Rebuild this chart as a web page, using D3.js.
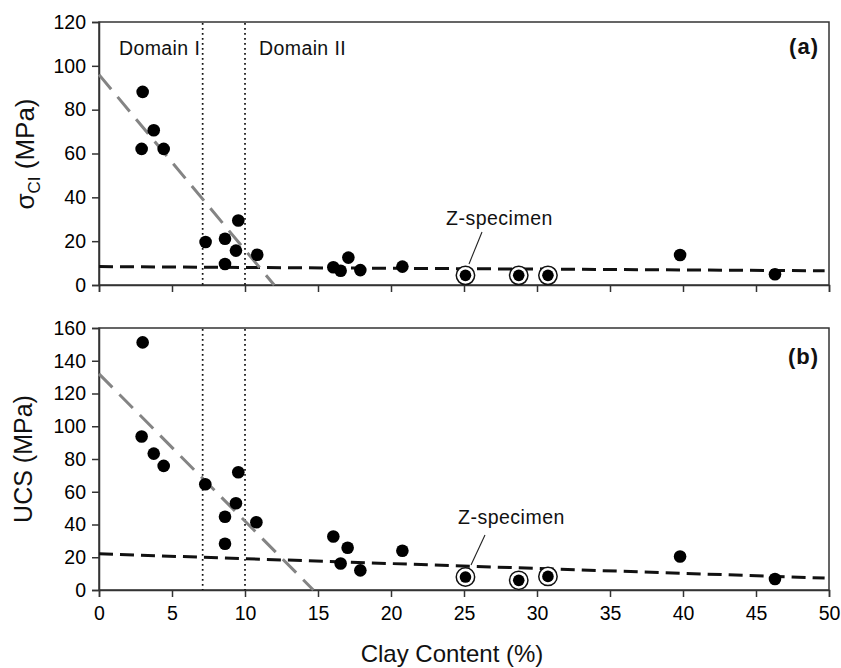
<!DOCTYPE html>
<html>
<head>
<meta charset="utf-8">
<script src="https://cdn.jsdelivr.net/npm/d3@7"></script>
<style>
  html, body { margin: 0; padding: 0; background: #fff; }
  svg { display: block; font-family: "Liberation Sans", Arial, Helvetica, sans-serif; }
</style>
</head>
<body>
<svg id="chart" width="841" height="668"></svg>
<script>
// ---- Data ----
const clayContent = [2.99, 2.92, 3.75, 4.43, 7.3, 8.63, 8.63, 9.38, 9.54, 10.84, 16.05, 16.55, 17.08, 17.9, 20.78, 25.1, 28.75, 30.75, 39.8, 46.3];
const clayContentUCS = [2.99, 2.92, 3.75, 4.43, 7.28, 8.63, 8.63, 9.38, 9.54, 10.78, 16.05, 16.55, 17.03, 17.9, 20.78, 25.1, 28.75, 30.75, 39.8, 46.3];
const sigmaCI = [88.1, 62.1, 70.6, 62.1, 19.6, 21.1, 9.6, 15.7, 29.4, 13.8, 8.1, 6.5, 12.5, 6.8, 8.4, 4.4, 4.4, 4.4, 13.7, 4.9];
const ucs = [151.2, 93.7, 83.3, 75.8, 64.6, 44.7, 28.2, 53.0, 71.9, 41.4, 32.7, 16.2, 25.8, 12.0, 24.0, 7.9, 5.9, 8.3, 20.5, 6.7];
const zSpecimen = [false, false, false, false, false, false, false, false, false, false, false, false, false, false, false, true, true, true, false, false];

const sigmaFitAll = [[0, 8.4], [49.7, 6.5]];
const sigmaFitDomainI = [[0, 96], [12.0, 0]];
const ucsFitAll = [[0, 22.1], [49.7, 7.3]];
const ucsFitDomainI = [[0, 132], [14.68, 0]];

const domainBounds = [7.1, 10];
const xTicks = [0, 5, 10, 15, 20, 25, 30, 35, 40, 45, 50];
const sigmaTicks = [0, 20, 40, 60, 80, 100, 120];
const ucsTicks = [0, 20, 40, 60, 80, 100, 120, 140, 160];
const domainLabels = [{ text: "Domain I", x: 1.37 }, { text: "Domain II", x: 10.96 }];

// ---- Layout ----
const svg = d3.select("#chart");
svg.append("rect").attr("width", 841).attr("height", 668).attr("fill", "#fff");

const x = d3.scaleLinear().domain([0, 50]).range([99, 829]);
const ySig = d3.scaleLinear().domain([0, 120]).range([285, 22]);
const yUcs = d3.scaleLinear().domain([0, 160]).range([590, 328]);

const axisColor = "#333";
const line = (ys) => d3.line().x(d => x(d[0])).y(d => ys(d[1]));

function panel(ys, yTicks, xs, vals, fitAll, fitDI, label, labelY, showXLabels, zText) {
  const g = svg.append("g");
  const [y0, y1] = ys.range();

  // frame
  g.append("rect")
    .attr("x", x(0)).attr("y", y1)
    .attr("width", x(50) - x(0)).attr("height", y0 - y1)
    .attr("fill", "none").attr("stroke", axisColor).attr("stroke-width", 1.5);

  // axes
  const xa = d3.axisBottom(x).tickValues(xTicks).tickSize(7).tickPadding(8)
    .tickFormat(showXLabels ? d3.format("d") : () => "");
  const gx = g.append("g").attr("transform", `translate(0,${y0})`).call(xa);
  const ya = d3.axisLeft(ys).tickValues(yTicks).tickSize(7).tickPadding(6).tickFormat(d3.format("d"));
  const gy = g.append("g").attr("transform", `translate(${x(0)},0)`).call(ya);
  [gx, gy].forEach(a => {
    a.select(".domain").attr("stroke", axisColor).attr("stroke-width", 1.5);
    a.selectAll(".tick line").attr("stroke", axisColor).attr("stroke-width", 1.5);
    a.selectAll(".tick text").attr("fill", "#000").style("font-size", "19.5px")
      .style("font-family", "'Liberation Sans', Arial, sans-serif");
  });
  gx.selectAll(".tick text").attr("dy", "0.75em");

  // domain boundaries
  g.selectAll(".bound").data(domainBounds).enter().append("line")
    .attr("x1", d => x(d)).attr("x2", d => x(d))
    .attr("y1", y1 + 1).attr("y2", y0)
    .attr("stroke", "#111").attr("stroke-width", 1.7)
    .attr("stroke-dasharray", "1.7,3.3");

  // fit lines
  g.append("path").datum(fitAll).attr("d", line(ys))
    .attr("fill", "none").attr("stroke", "#111").attr("stroke-width", 3)
    .attr("stroke-dasharray", "14,7");
  g.append("path").datum(fitDI).attr("d", line(ys))
    .attr("fill", "none").attr("stroke", "#848484").attr("stroke-width", 3)
    .attr("stroke-dasharray", "19,10");

  // points
  const pts = xs.map((c, i) => ({ c, v: vals[i], z: zSpecimen[i] }));
  g.selectAll(".ring").data(pts.filter(p => p.z)).enter().append("circle")
    .attr("cx", d => x(d.c)).attr("cy", d => ys(d.v)).attr("r", 9.2)
    .attr("fill", "#fff").attr("stroke", "#111").attr("stroke-width", 1.5);
  g.selectAll(".dot").data(pts).enter().append("circle")
    .attr("cx", d => x(d.c)).attr("cy", d => ys(d.v))
    .attr("r", d => d.z ? 5.8 : 6.3)
    .attr("fill", "#000");

  // panel label
  g.append("text").attr("x", 819).attr("y", labelY).attr("text-anchor", "end")
    .style("font-size", "22px").style("font-weight", "bold").style("letter-spacing", "1px")
    .attr("fill", "#111").text(label);

  // Z-specimen annotation
  g.append("text").attr("x", zText.tx).attr("y", zText.ty)
    .style("font-size", "19.5px").style("letter-spacing", "0.5px").attr("fill", "#111").text("Z-specimen");
  g.append("line")
    .attr("x1", zText.lx1).attr("y1", zText.ly1).attr("x2", zText.lx2).attr("y2", zText.ly2)
    .attr("stroke", "#222").attr("stroke-width", 1.1);
  return g;
}

const gTop = panel(ySig, sigmaTicks, clayContent, sigmaCI, sigmaFitAll, sigmaFitDomainI, "(a)", 54, false,
  { tx: 446, ty: 225, lx1: 482, ly1: 232, lx2: 469, ly2: 264 });
const gBot = panel(yUcs, ucsTicks, clayContentUCS, ucs, ucsFitAll, ucsFitDomainI, "(b)", 364, true,
  { tx: 458, ty: 524, lx1: 485, ly1: 535, lx2: 471, ly2: 565 });

// domain labels (top panel)
gTop.selectAll(".dlab").data(domainLabels).enter().append("text")
  .attr("x", d => x(d.x)).attr("y", 55)
  .style("font-size", "19.5px").style("letter-spacing", "0.4px").attr("fill", "#111")
  .text(d => d.text);

// axis titles
svg.append("text").attr("x", 452).attr("y", 662).attr("text-anchor", "middle")
  .style("font-size", "24px").attr("fill", "#111").text("Clay Content (%)");

const t1 = svg.append("text").attr("transform", "translate(34,154) rotate(-90)")
  .attr("text-anchor", "middle").style("font-size", "26px").attr("fill", "#111");
t1.append("tspan").text("σ");
t1.append("tspan").attr("dy", 6).style("font-size", "17px").text("CI");
t1.append("tspan").attr("dy", -6).text(" (MPa)");

svg.append("text").attr("transform", "translate(32,459) rotate(-90)")
  .attr("text-anchor", "middle").style("font-size", "25px").attr("fill", "#111").text("UCS (MPa)");
</script>
</body>
</html>
